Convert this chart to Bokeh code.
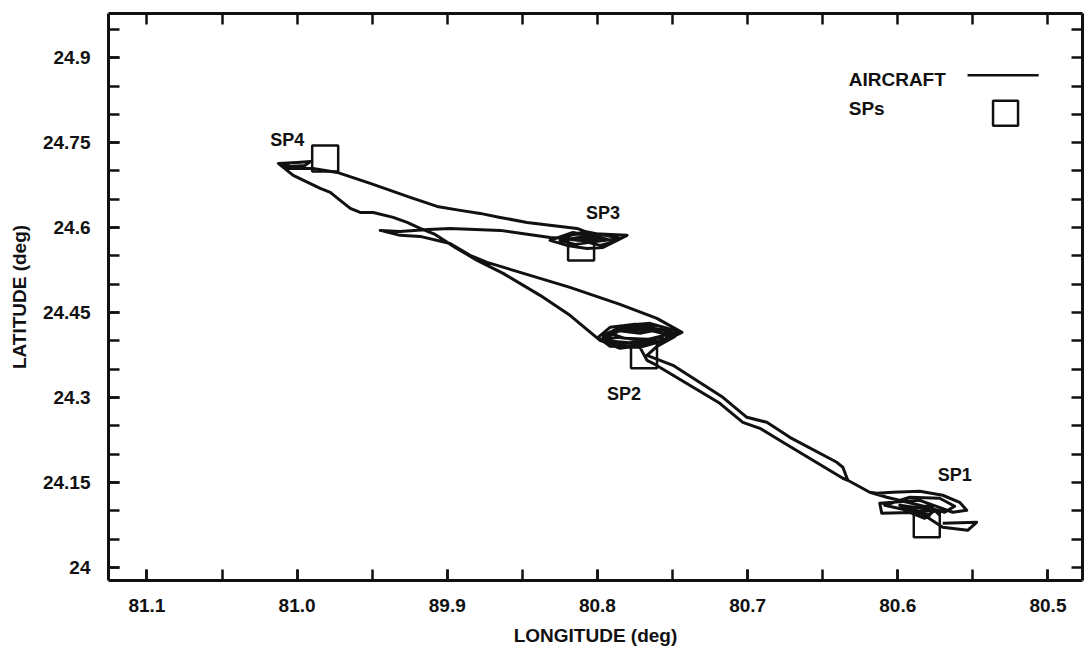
from bokeh.plotting import figure
from bokeh.models import Range1d, FixedTicker, LinearAxis, ColumnDataSource
from bokeh.embed import file_html
from bokeh.resources import INLINE
from bokeh.core.properties import value

# ---------------- data ----------------
# aircraft ground track (longitude W deg, latitude N deg), in flight order
TRACK_LON = [
    80.5701, 80.5475, 80.5535, 80.5701, 80.5854, 80.6107, 80.6120, 80.5854, 80.5634, 80.5541,
    80.5588, 80.5701, 80.5854, 80.6034, 80.6140, 80.6187, 80.6333, 80.6366, 80.6765, 80.6918,
    80.7032, 80.7185, 80.7630, 80.7670,
    80.7717, 80.7916, 80.7996, 80.7916, 80.7750, 80.7584, 80.7437, 80.7551, 80.7750, 80.7903,
    80.7950, 80.7850, 80.7684, 80.7517, 80.7484, 80.7650, 80.7850, 80.7983,
    80.7883, 80.7717, 80.7584, 80.7464, 80.7617, 80.7783, 80.7930, 80.7963, 80.7817, 80.7650,
    80.7531, 80.7570, 80.7717, 80.7863, 80.7983,
    80.8183, 80.8382, 80.8628, 80.8801, 80.8948, 80.9081, 80.9181, 80.9267, 80.9360, 80.9493,
    80.9580, 80.9646, 80.9713, 80.9779, 80.9846, 81.0026, 81.0125,
    80.9999, 80.9912, 80.9946, 81.0046, 81.0112, 81.0059,
    80.9893, 80.9733, 80.9513, 80.9247, 80.9068, 80.8914, 80.8781, 80.8648, 80.8469, 80.8136,
    80.8050, 80.7803, 80.7963, 80.8070, 80.8203, 80.8316, 80.8163, 80.7983, 80.7883, 80.7983,
    80.8116, 80.8249, 80.8083, 80.7916, 80.7850, 80.8149, 80.8249, 80.8083, 80.7950, 80.8316,
    80.8648, 80.8981, 80.9127, 80.9314, 80.9447, 80.9314, 80.9181,
    80.8981, 80.8848, 80.8735, 80.8515, 80.8183, 80.7850, 80.7604, 80.7437,
    80.7504, 80.7664, 80.7817, 80.7916, 80.7797, 80.7617, 80.7517, 80.7551, 80.7717, 80.7883,
    80.7950, 80.7850, 80.7650, 80.7484, 80.7604, 80.7670,
    80.7497, 80.7165, 80.7005, 80.6872, 80.6719, 80.6406, 80.6366, 80.6333, 80.6187,
    80.6073, 80.5854, 80.5688, 80.5621, 80.5721, 80.5920, 80.6087, 80.5787,
    80.5987, 80.5754, 80.5821, 80.5954, 80.5787, 80.5721,
]
TRACK_LAT = [
    24.0781, 24.0798, 24.0657, 24.0710, 24.0975, 24.0957, 24.1133, 24.1186, 24.0975, 24.1010,
    24.1151, 24.1275, 24.1345, 24.1328, 24.1310, 24.1328, 24.1539, 24.1575, 24.2210, 24.2457,
    24.2563, 24.2898, 24.3604, 24.3657,
    24.3886, 24.3904, 24.4063, 24.4239, 24.4292, 24.4257, 24.4151, 24.4010, 24.3957, 24.3992,
    24.4098, 24.4204, 24.4239, 24.4169, 24.4080, 24.3939, 24.3869, 24.4010,
    24.4186, 24.4133, 24.4204, 24.4116, 24.3975, 24.3904, 24.3957, 24.4098, 24.4274, 24.4310,
    24.4222, 24.4063, 24.4010, 24.4063, 24.4010,
    24.4451, 24.4804, 24.5192, 24.5421, 24.5651, 24.5880, 24.5986, 24.6092, 24.6180, 24.6268,
    24.6268, 24.6339, 24.6480, 24.6621, 24.6692, 24.6921, 24.7133,
    24.7151, 24.7168, 24.7098, 24.7080, 24.7133, 24.7045,
    24.7045, 24.6974, 24.6780, 24.6533, 24.6374, 24.6304, 24.6251, 24.6180, 24.6092, 24.5986,
    24.5898, 24.5863, 24.5651, 24.5633, 24.5686, 24.5774, 24.5916, 24.5827, 24.5757, 24.5686,
    24.5774, 24.5810, 24.5933, 24.5845, 24.5810, 24.5704, 24.5774, 24.5845, 24.5774, 24.5827,
    24.5951, 24.5986, 24.5968, 24.5933, 24.5951, 24.5863, 24.5845,
    24.5721, 24.5510, 24.5386, 24.5210, 24.4945, 24.4645, 24.4398, 24.4151,
    24.4133, 24.4027, 24.4045, 24.4133, 24.4257, 24.4204, 24.4169, 24.4010, 24.3886, 24.3939,
    24.4045, 24.4186, 24.4186, 24.4080, 24.3904, 24.3745,
    24.3569, 24.3004, 24.2651, 24.2563, 24.2298, 24.1857, 24.1769, 24.1539, 24.1328,
    24.1239, 24.1098, 24.0975, 24.1081, 24.1222, 24.1239, 24.1098, 24.0922,
    24.1098, 24.1010, 24.0869, 24.1010, 24.1098, 24.0922,
]

SP_NAMES = ["SP1", "SP2", "SP3", "SP4"]
SP_LON = [80.5807, 80.7690, 80.8109, 80.9813]
SP_LAT = [24.0763, 24.3745, 24.5651, 24.7221]
SP_LABEL_DX = [28, -20, 22, -38]     # label offsets in pixels
SP_LABEL_DY = [-49, 39, -34, -18]

X_TICKS = [81.1, 81.0, 80.9, 80.8, 80.7, 80.6, 80.5]
X_TICK_LABELS = ["81.1", "81.0", "89.9", "80.8", "80.7", "80.6", "80.5"]
X_MINOR = [81.1, 81.05, 81.0, 80.95, 80.9, 80.85, 80.8, 80.75, 80.7, 80.65, 80.6, 80.55, 80.5]
Y_TICKS = [24.0, 24.15, 24.3, 24.45, 24.6, 24.75, 24.9]
Y_TICK_LABELS = ["24", "24.15", "24.3", "24.45", "24.6", "24.75", "24.9"]
Y_MINOR = [24.0, 24.05, 24.1, 24.15, 24.2, 24.25, 24.3, 24.35, 24.4, 24.45, 24.5,
           24.55, 24.6, 24.65, 24.7, 24.75, 24.8, 24.85, 24.9, 24.95]

X_START, X_END = 81.1256, 80.477
Y_START, Y_END = 23.977, 24.978

FONT = "Liberation Sans"
INK = "#111111"

p = figure(width=1085, height=661, output_backend="svg", toolbar_location=None,
           x_range=Range1d(X_START, X_END), y_range=Range1d(Y_START, Y_END),
           min_border_left=108, min_border_right=3, min_border_top=13, min_border_bottom=81)
p.grid.visible = False
p.outline_line_color = None
p.background_fill_color = "white"
p.border_fill_color = "white"


def style_ticks(ax, ticks, minor):
    ax.ticker = FixedTicker(ticks=ticks, minor_ticks=minor)
    ax.major_tick_in = 11
    ax.major_tick_out = 0
    ax.minor_tick_in = 11
    ax.minor_tick_out = 0
    ax.major_tick_line_width = 2.5
    ax.minor_tick_line_width = 2.5
    ax.major_tick_line_color = INK
    ax.minor_tick_line_color = INK
    ax.axis_line_width = 3
    ax.axis_line_color = INK


def style_labels(ax, ticks, labels, title):
    ax.major_label_overrides = dict(zip(ticks, labels))
    ax.major_label_text_font = FONT
    ax.major_label_text_font_style = "bold"
    ax.major_label_text_font_size = "19px"
    ax.major_label_text_color = INK
    ax.major_label_standoff = 18
    ax.axis_label = title
    ax.axis_label_text_font = FONT
    ax.axis_label_text_font_style = "bold"
    ax.axis_label_text_font_size = "19px"
    ax.axis_label_text_color = INK
    ax.axis_label_standoff = 10


xa = p.xaxis[0]
ya = p.yaxis[0]
style_ticks(xa, X_TICKS, X_MINOR)
style_labels(xa, X_TICKS, X_TICK_LABELS, "LONGITUDE (deg)")
style_ticks(ya, Y_TICKS, Y_MINOR)
style_labels(ya, Y_TICKS, Y_TICK_LABELS, "LATITUDE (deg)")

# frame axes on top and right: tick marks only (all as minor ticks, no labels)
top = LinearAxis()
style_ticks(top, [], X_MINOR)
p.add_layout(top, "above")
right = LinearAxis()
style_ticks(right, [], Y_MINOR)
p.add_layout(right, "right")

# SP markers
sp_src = ColumnDataSource(dict(x=SP_LON, y=SP_LAT, name=SP_NAMES, dx=SP_LABEL_DX, dy=SP_LABEL_DY))
p.scatter("x", "y", source=sp_src, marker="square", size=26, line_width=2.5,
          line_color=INK, fill_color="white")

# aircraft track
p.line(TRACK_LON, TRACK_LAT, line_width=3.0, line_color=INK, line_join="round")

p.text("x", "y", text="name", source=sp_src, x_offset="dx", y_offset="dy",
       text_font=value(FONT), text_font_style="bold", text_font_size="18px",
       text_color=INK, text_align="center", text_baseline="middle")


# legend (placed as fractions of the plotting frame)
def fx(f):
    return X_START + (X_END - X_START) * f


def fy(f):
    return Y_END - (Y_END - Y_START) * f


p.text([fx(0.760), fx(0.760)], [fy(0.116), fy(0.167)], text=["AIRCRAFT", "SPs"],
       text_font=value(FONT), text_font_style="bold", text_font_size="19px",
       text_color=INK, text_align="left", text_baseline="middle")
p.line([fx(0.882), fx(0.955)], [fy(0.109), fy(0.109)], line_width=2.5, line_color=INK)
p.scatter([fx(0.921)], [fy(0.176)], marker="square", size=25, line_width=2.5,
          line_color=INK, fill_color="white")

open("out.html", "w").write(file_html(p, INLINE))
